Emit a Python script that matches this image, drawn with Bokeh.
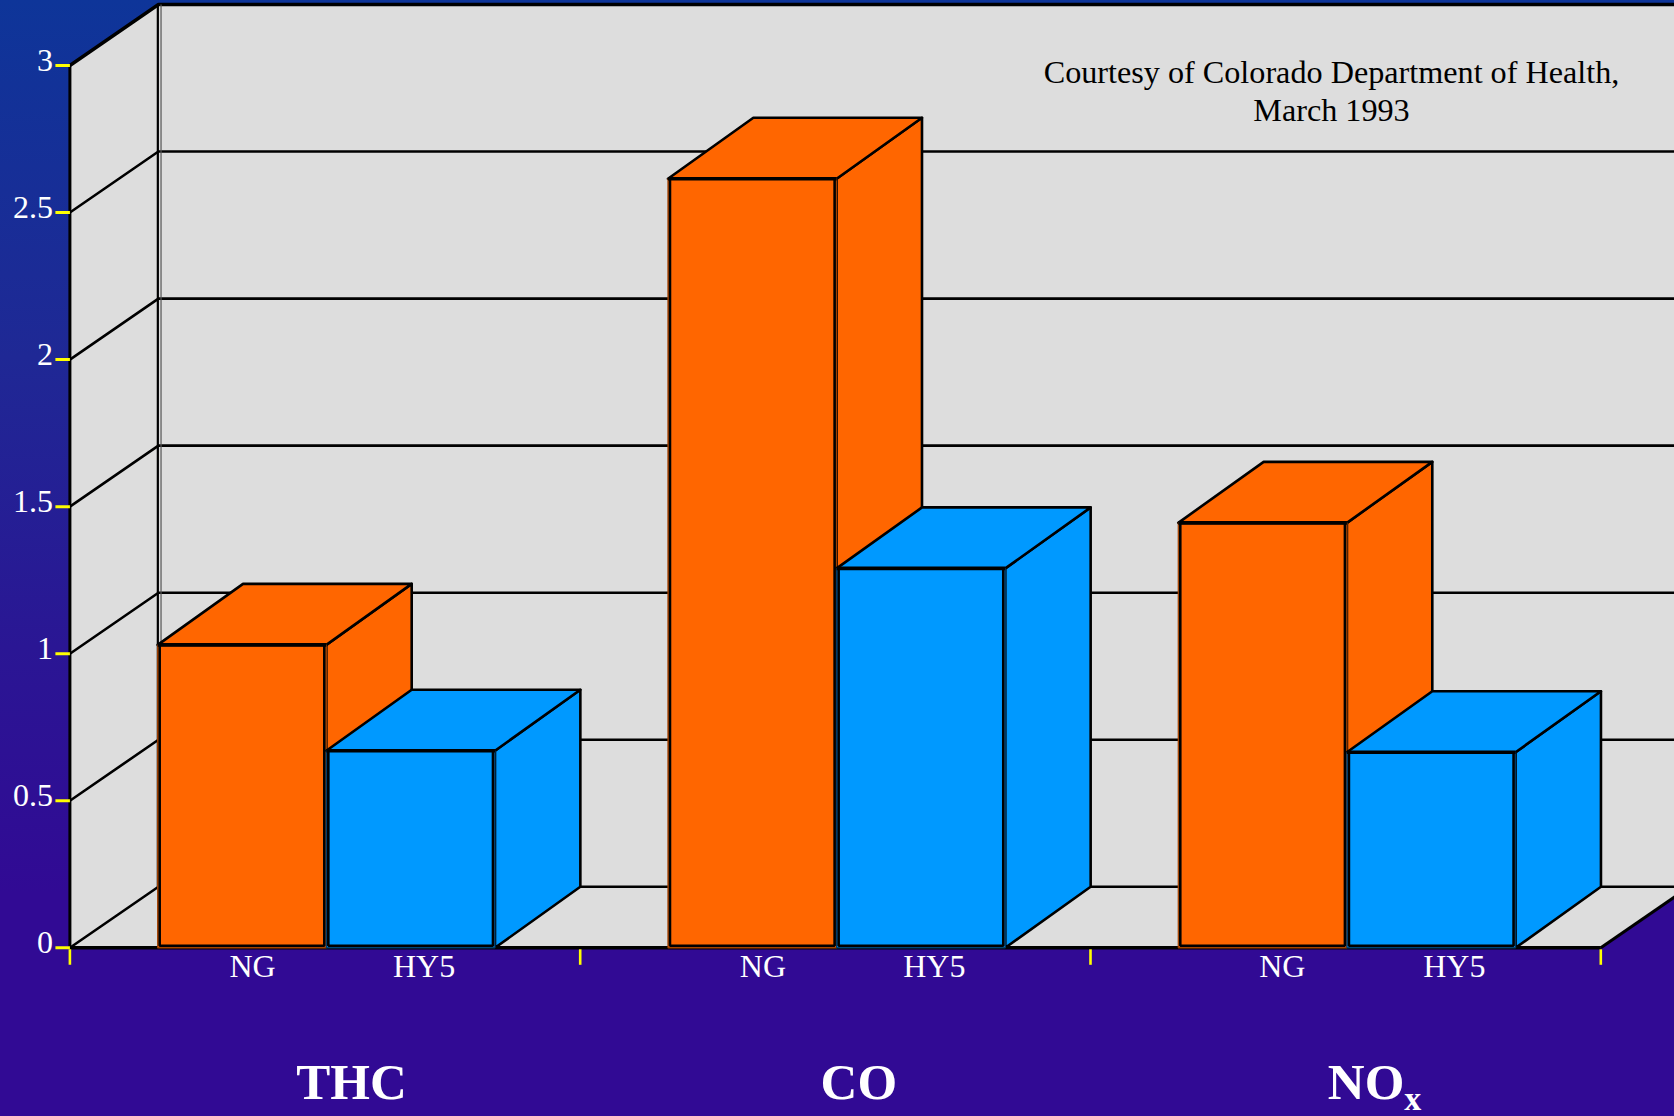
from bokeh.plotting import figure
from bokeh.embed import file_html
from bokeh.resources import INLINE
from bokeh.models import Range1d
from bokeh.core.properties import value

# ---- data ----
categories = ["THC", "CO", "NO"]
series_names = ["NG", "HY5"]
ng_values = [1.03, 2.615, 1.445]
hy5_values = [0.67, 1.29, 0.665]
y_ticks = [0, 0.5, 1, 1.5, 2, 2.5, 3]
y_tick_labels = ["0", "0.5", "1", "1.5", "2", "2.5", "3"]
note_lines = ["Courtesy of Colorado Department of Health,", "March 1993"]

# ---- layout ----
W, H = 1674, 1116
PX_X0, CAT_PX = 69.4, 510.3      # pixel of x=0, pixels per category
PX_Y0, UNIT_PX = 947.3, 294.1    # pixel of y=0, pixels per unit
GAP = 0.172                      # front gap before first bar, categories
BAR_W = 0.3305
DEPTH_X_WALL = 0.1735
DEPTH_X = 0.1673
DEPTH_Y = 0.2074
N = len(categories)
TOP = y_ticks[-1]

x_range = Range1d(-PX_X0 / CAT_PX, (W - PX_X0) / CAT_PX)
y_range = Range1d(-(H - PX_Y0) / UNIT_PX, PX_Y0 / UNIT_PX)
px_x = 1.0 / CAT_PX
px_y = 1.0 / UNIT_PX

p = figure(width=W, height=H, x_range=x_range, y_range=y_range,
           output_backend="svg", toolbar_location=None, min_border=0,
           background_fill_alpha=0, border_fill_alpha=0, outline_line_alpha=0)
p.axis.visible = False
p.grid.visible = False
p.styles = {"position": "absolute", "left": "0px", "top": "0px",
            "background": "linear-gradient(180deg, #0e3599 0%, #1f2895 32%, #2a1694 58%, #310a94 80%, #310a94 100%)"}

WALL = "#dddddd"
BLACK = "#000000"
YEL = "#ffff00"
ORANGE = "#ff6600"
BLUE = "#0099ff"
LW = 3.0

# back wall
xr_end = N + 0.3
bx = DEPTH_X_WALL
by = DEPTH_Y
p.patch([bx, xr_end, xr_end, bx], [by, by, TOP + by, TOP + by], fill_color=WALL, line_color=None)
# floor
p.patch([0, N, N + bx, bx], [0, 0, by, by], fill_color=WALL, line_color=None)
# left wall
p.patch([0, bx, bx, 0], [0, by, TOP + by, TOP], fill_color=WALL, line_color=None)

# back grid and side-wall lines
for t in y_ticks:
    p.line([0, bx, xr_end], [t, t + by, t + by], line_color=BLACK, line_width=3.4 if t == TOP else 2.6)
# double vertical at wall corner
p.line([bx - 0.6 * px_x, bx - 0.6 * px_x], [by, TOP + by], line_color=BLACK, line_width=2.2)
p.line([bx + 2.6 * px_x, bx + 2.6 * px_x], [by, TOP + by], line_color="#555555", line_width=1.2)
# left frame and floor edges
p.line([0, 0], [0, TOP], line_color=BLACK, line_width=LW)
p.line([0, N], [0, 0], line_color=BLACK, line_width=LW + 0.6)
p.line([N, N + bx], [0, by], line_color=BLACK, line_width=LW)


def bar(x_left, v, col, rim):
    xr = x_left + BAR_W
    d = DEPTH_X
    # side
    p.patch([xr, xr + d, xr + d, xr], [0, by, v + by, v], fill_color=col,
            line_color=BLACK, line_width=LW - 0.4, line_join="round")
    # top
    p.patch([x_left, xr, xr + d, x_left + d], [v, v, v + by, v + by], fill_color=col,
            line_color=BLACK, line_width=LW - 0.4, line_join="round")
    # front: thin rim outside, black stroke just inside it
    p.quad(left=[x_left], right=[xr], bottom=[0], top=[v], fill_color=col,
           line_color=rim, line_width=1.2)
    p.quad(left=[x_left + 2 * px_x], right=[xr - 2 * px_x], bottom=[2 * px_y], top=[v],
           fill_color=col, line_color=BLACK, line_width=2.6)
    p.line([x_left, xr], [v, v], line_color=BLACK, line_width=LW + 0.6)


for i in range(N):
    bar(i + GAP, ng_values[i], ORANGE, "#a04000")
    bar(i + GAP + BAR_W, hy5_values[i], BLUE, "#003a66")

# ticks
p.segment(x0=[-14.5 * px_x] * len(y_ticks), x1=[0] * len(y_ticks), y0=y_ticks, y1=y_ticks,
          line_color=YEL, line_width=3)
xt = list(range(N + 1))
p.segment(x0=xt, x1=xt, y0=[0 - 1.5 * px_y] * len(xt), y1=[-17 * px_y] * len(xt),
          line_color=YEL, line_width=2.6)

# y labels
TF = value("Liberation Serif")
p.text(x=[-17 * px_x] * len(y_ticks), y=y_ticks, text=y_tick_labels, text_font=TF,
       text_font_size="32px", text_color="#ffffff", text_align="right", text_baseline="middle",
       y_offset=-5)

# series labels
ng_off = [0.358, 0.358, 0.376]
hy_off = [0.694, 0.694, 0.713]
for i in range(N):
    for off, name in ((ng_off[i], series_names[0]), (hy_off[i], series_names[1])):
        p.text(x=[i + off], y=[-18 * px_y], text=[name], text_font=TF, text_font_size="32px",
               text_color="#ffffff", text_align="center", text_baseline="alphabetic")

# category labels
cat_off = [0.552, 0.5461, 0.615]
for i, c in enumerate(categories):
    align = "center" if i < 2 else "right"
    p.text(x=[i + cat_off[i]], y=[-134.2 * px_y], text=[c], text_font=TF, text_font_size="51px",
           text_font_style="bold", text_color="#ffffff", text_align=align, text_baseline="alphabetic")
p.text(x=[2 + cat_off[2]], y=[-151 * px_y], text=["x"], text_font=TF, text_font_size="34px",
       text_font_style="bold", text_color="#ffffff", text_align="left", text_baseline="alphabetic")

# note
note_x = (1331 - PX_X0) / CAT_PX
for ln, py in zip(note_lines, (71.6, 109.5)):
    p.text(x=[note_x], y=[(PX_Y0 - py) / UNIT_PX], text=[ln], text_font=TF, text_font_size="32.2px",
           text_color="#000000", text_align="center", text_baseline="middle")

open("out.html", "w").write(file_html(p, INLINE))
